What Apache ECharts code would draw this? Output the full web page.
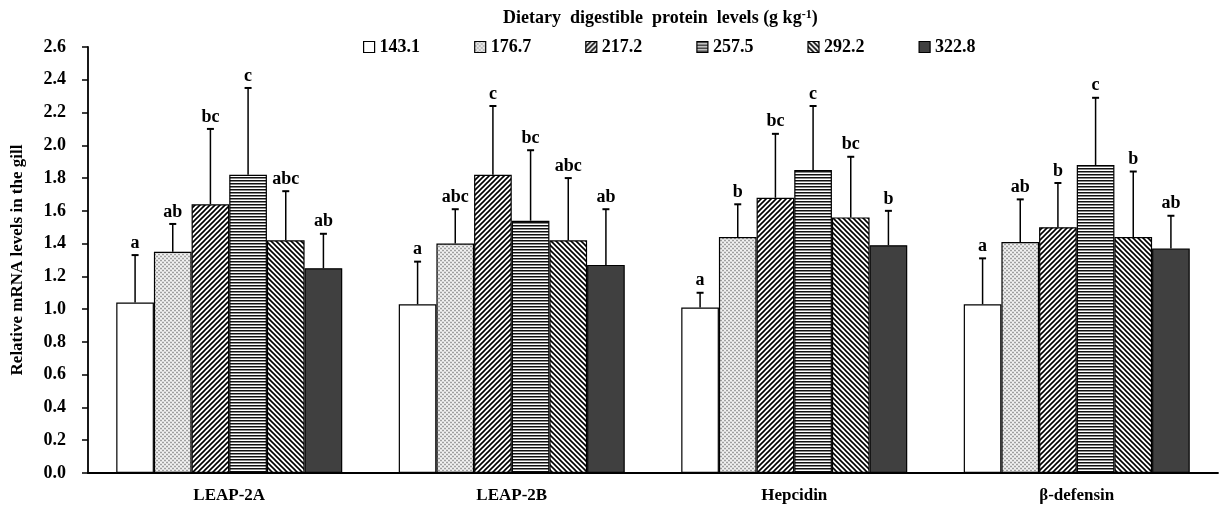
<!DOCTYPE html>
<html>
<head>
<meta charset="utf-8">
<script src="https://cdn.jsdelivr.net/npm/echarts@6/dist/echarts.min.js"></script>
<style>
  html, body { margin: 0; padding: 0; background: #fff; }
  #chart { width: 1219px; height: 506px; }
</style>
</head>
<body>
<div id="chart"></div>
<script>
const genes = ['LEAP-2A', 'LEAP-2B', 'Hepcidin', 'β-defensin'];
const levels = ['143.1', '176.7', '217.2', '257.5', '292.2', '322.8'];
const yTicks = { min: 0, max: 2.6, step: 0.2 };

// means, one array per protein level (order of genes)
const mean143 = [1.04, 1.03, 1.01, 1.03];
const mean177 = [1.35, 1.40, 1.44, 1.41];
const mean217 = [1.64, 1.82, 1.68, 1.50];
const mean258 = [1.82, 1.54, 1.85, 1.88];
const mean292 = [1.42, 1.42, 1.56, 1.44];
const mean323 = [1.25, 1.27, 1.39, 1.37];

// error bar lengths
const sd143 = [0.29, 0.26, 0.09, 0.28];
const sd177 = [0.17, 0.21, 0.20, 0.26];
const sd217 = [0.46, 0.42, 0.39, 0.27];
const sd258 = [0.53, 0.43, 0.39, 0.41];
const sd292 = [0.30, 0.38, 0.37, 0.40];
const sd323 = [0.21, 0.34, 0.21, 0.20];

// significance letters
const sig143 = ['a', 'a', 'a', 'a'];
const sig177 = ['ab', 'abc', 'b', 'ab'];
const sig217 = ['bc', 'c', 'bc', 'b'];
const sig258 = ['c', 'bc', 'c', 'c'];
const sig292 = ['abc', 'abc', 'bc', 'b'];
const sig323 = ['ab', 'ab', 'b', 'ab'];

const means = [mean143, mean177, mean217, mean258, mean292, mean323];
const sds = [sd143, sd177, sd217, sd258, sd292, sd323];
const sigs = [sig143, sig177, sig217, sig258, sig292, sig323];

const FONT = '"Liberation Serif", "Times New Roman", serif';

// fill patterns
function tile(w, h, draw) {
    const c = document.createElement('canvas');
    c.width = w;
    c.height = h;
    const ctx = c.getContext('2d');
    ctx.fillStyle = '#fff';
    ctx.fillRect(0, 0, w, h);
    draw(ctx);
    return { image: c, repeat: 'repeat' };
}

function diag(forward) {
    const s = 5;
    return tile(s, s, ctx => {
        ctx.strokeStyle = '#000';
        ctx.lineWidth = 1.6;
        ctx.beginPath();
        for (let k = -1; k <= 1; k++) {
            if (forward) {
                ctx.moveTo(k * s - 1, s + 1);
                ctx.lineTo(k * s + s + 1, -1);
            } else {
                ctx.moveTo(k * s - 1, -1);
                ctx.lineTo(k * s + s + 1, s + 1);
            }
        }
        ctx.stroke();
    });
}

const fills = [
    '#ffffff',
    tile(4, 4, ctx => {
        ctx.fillStyle = '#dcdcdc';
        ctx.fillRect(0, 0, 4, 4);
        ctx.fillStyle = '#a0a0a0';
        ctx.fillRect(0, 0, 2, 1);
        ctx.fillRect(2, 2, 2, 1);
        ctx.fillStyle = '#f4f4f4';
        ctx.fillRect(2, 0, 2, 1);
        ctx.fillRect(0, 2, 2, 1);
    }),
    diag(true),
    tile(4, 3, ctx => {
        ctx.fillStyle = '#111';
        ctx.fillRect(0, 0, 4, 1);
        ctx.fillStyle = '#888';
        ctx.fillRect(0, 1, 4, 1);
    }),
    diag(false),
    '#404040'
];

const barSeries = levels.map((name, i) => ({
    name: name,
    type: 'bar',
    data: means[i],
    barGap: 0,
    barCategoryGap: '20%',
    itemStyle: { color: fills[i], borderColor: '#000', borderWidth: 1.2 },
    emphasis: { disabled: true }
}));

const errData = [];
levels.forEach((name, i) => {
    genes.forEach((g, j) => {
        errData.push([j, i, means[i][j], sds[i][j]]);
    });
});

const errSeries = {
    type: 'custom',
    data: errData,
    z: 5,
    silent: true,
    renderItem(params, api) {
        const cat = api.value(0);
        const lvl = api.value(1);
        const m = api.value(2);
        const sd = api.value(3);
        const band = api.size([1, 0])[0];
        const bw = band * 0.8 / levels.length;
        const base = api.coord([cat, m]);
        const x = base[0] + (lvl - (levels.length - 1) / 2) * bw;
        const yTop = api.coord([cat, m + sd])[1];
        return {
            type: 'group',
            children: [
                { type: 'line', shape: { x1: x, y1: base[1], x2: x, y2: yTop }, style: { stroke: '#000', lineWidth: 1.5 } },
                { type: 'line', shape: { x1: x - 3.5, y1: yTop, x2: x + 3.5, y2: yTop }, style: { stroke: '#000', lineWidth: 2 } },
                {
                    type: 'text',
                    style: {
                        x: x, y: yTop - 3,
                        text: sigs[lvl][cat],
                        align: 'center', verticalAlign: 'bottom',
                        font: 'bold 18px ' + FONT,
                        fill: '#000'
                    }
                }
            ]
        };
    }
};

const chart = echarts.init(document.getElementById('chart'));
chart.setOption({
    animation: false,
    backgroundColor: '#fff',
    textStyle: { fontFamily: FONT },
    title: {
        left: 498,
        top: 4,
        text: '{a|Dietary  digestible  protein  levels (g kg}{s|-1}{a|)}',
        textStyle: {
            rich: {
                a: { fontFamily: FONT, fontWeight: 'bold', fontSize: 18, color: '#000' },
                s: { fontFamily: FONT, fontWeight: 'bold', fontSize: 12, color: '#000', verticalAlign: 'top', padding: [0, 0, 7, 0] }
            }
        }
    },
    legend: {
        data: levels,
        left: 358,
        top: 33,
        icon: 'rect',
        itemWidth: 11,
        itemHeight: 11,
        itemGap: 54,
        selectedMode: false,
        itemStyle: { borderColor: '#000', borderWidth: 1.2 },
        textStyle: { fontFamily: FONT, fontWeight: 'bold', fontSize: 18, color: '#000' }
    },
    grid: { left: 88, right: 1, top: 47, bottom: 33 },
    xAxis: {
        type: 'category',
        data: genes,
        axisLine: { lineStyle: { color: '#000', width: 1.8 } },
        axisTick: { length: 5, lineStyle: { color: '#000', width: 1.5 } },
        axisLabel: { color: '#000', fontFamily: FONT, fontWeight: 'bold', fontSize: 17, margin: 14 }
    },
    yAxis: {
        type: 'value',
        min: yTicks.min,
        max: yTicks.max,
        interval: yTicks.step,
        name: 'Relative mRNA levels in the gill',
        nameLocation: 'middle',
        nameGap: 62,
        nameTextStyle: { color: '#000', fontFamily: FONT, fontWeight: 'bold', fontSize: 17 },
        splitLine: { show: false },
        axisLine: { show: true, lineStyle: { color: '#000', width: 1.8 } },
        axisTick: { show: true, length: 6, lineStyle: { color: '#000', width: 1.5 } },
        axisLabel: {
            color: '#000', fontFamily: FONT, fontWeight: 'bold', fontSize: 18, margin: 22,
            formatter: v => v.toFixed(1)
        }
    },
    series: [...barSeries, errSeries]
});
</script>
</body>
</html>
